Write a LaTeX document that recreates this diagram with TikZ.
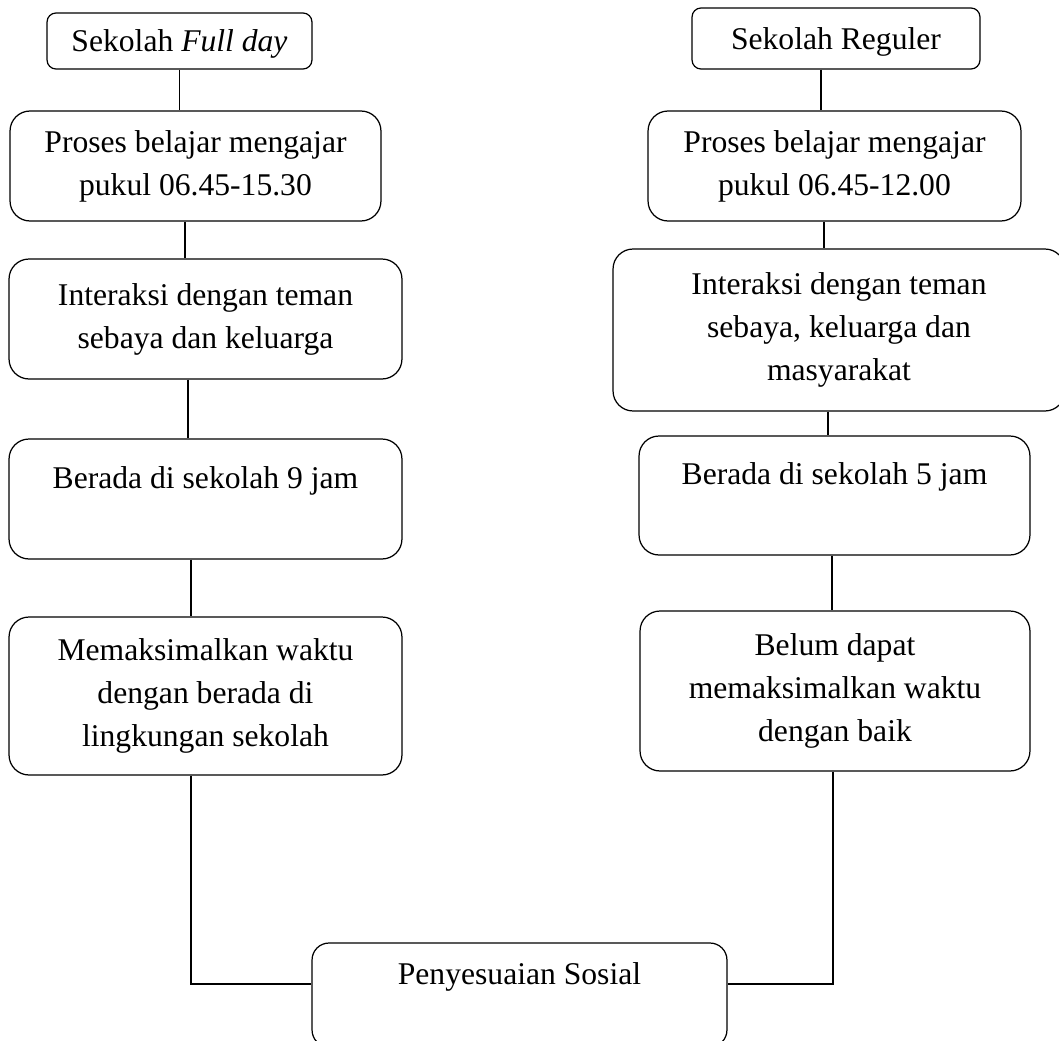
\documentclass[tikz,border=0pt]{standalone}
\usepackage{fontspec}
\setmainfont{Liberation Serif}
\usepackage{tikz}

\begin{document}
\begin{tikzpicture}[x=0.02cm, y=-0.02cm,
    box/.style={shape=rectangle, draw, line width=0.7pt, rounded corners=0.4cm, inner sep=0pt, align=center, font=\fontsize{18}{24.5}\selectfont},
    topbox/.style={box, rounded corners=0.18cm, text depth=0pt},
    conn/.style={draw, line width=0.7pt}]
    \useasboundingbox (0,0) rectangle (1059,1041);
    \clip (0,0) rectangle (1059,1041);

    \node[topbox, minimum width=5.30cm, minimum height=1.12cm] (fullday) at (179.5,41) {Sekolah \textit{Full day}};
    \node[box, minimum width=7.42cm, minimum height=2.20cm] (prosesL) at (195.5,166) {Proses belajar mengajar\\pukul 06.45-15.30};
    \node[box, minimum width=7.86cm, minimum height=2.40cm] (interL) at (205.5,319) {Interaksi dengan teman\\sebaya dan keluarga};
    \node[box, minimum width=7.86cm, minimum height=2.40cm] (beradaL) at (205.5,499) {Berada di sekolah 9 jam\\~};
    \node[box, minimum width=7.86cm, minimum height=3.16cm] (maks) at (205.5,696) {Memaksimalkan waktu\\dengan berada di\\lingkungan sekolah};

    \node[topbox, minimum width=5.76cm, minimum height=1.22cm] (reguler) at (836,38.5) {Sekolah Reguler};
    \node[box, minimum width=7.46cm, minimum height=2.20cm] (prosesR) at (834.5,166) {Proses belajar mengajar\\pukul 06.45-12.00};
    \node[box, minimum width=9.04cm, minimum height=3.24cm] (interR) at (839,330) {Interaksi dengan teman\\sebaya, keluarga dan\\masyarakat};
    \node[box, minimum width=7.82cm, minimum height=2.38cm] (beradaR) at (834.5,495.5) {Berada di sekolah 5 jam\\~};
    \node[box, minimum width=7.80cm, minimum height=3.20cm] (belum) at (835,691) {Belum dapat\\memaksimalkan waktu\\dengan baik};

    \node[box, minimum width=8.30cm, minimum height=2.08cm, rounded corners=0.34cm] (sosial) at (519.5,995) {Penyesuaian Sosial\\~};

    % \draw (fullday) -- (prosesL);
    \draw[conn] (fullday.south) -- (fullday.south |- prosesL.north);
    \draw[conn] ([xshift=-0.21cm]prosesL.south) -- ([xshift=-0.21cm]prosesL.south |- interL.north);
    \draw[conn] ([xshift=-0.35cm]interL.south) -- ([xshift=-0.35cm]interL.south |- beradaL.north);
    \draw[conn] ([xshift=-0.29cm]beradaL.south) -- ([xshift=-0.29cm]beradaL.south |- maks.north);
    \draw[conn] ([xshift=-0.29cm]maks.south) |- ([yshift=0.22cm]sosial.west);

    \draw[conn] ([xshift=-0.30cm]reguler.south) -- ([xshift=-0.30cm]reguler.south |- prosesR.north);
    \draw[conn] ([xshift=-0.21cm]prosesR.south) -- ([xshift=-0.21cm]prosesR.south |- interR.north);
    \draw[conn] ([xshift=-0.22cm]interR.south) -- ([xshift=-0.22cm]interR.south |- beradaR.north);
    \draw[conn] ([xshift=-0.05cm]beradaR.south) -- ([xshift=-0.05cm]beradaR.south |- belum.north);
    \draw[conn] ([xshift=-0.04cm]belum.south) |- ([yshift=0.22cm]sosial.east);
\end{tikzpicture}
\end{document}
